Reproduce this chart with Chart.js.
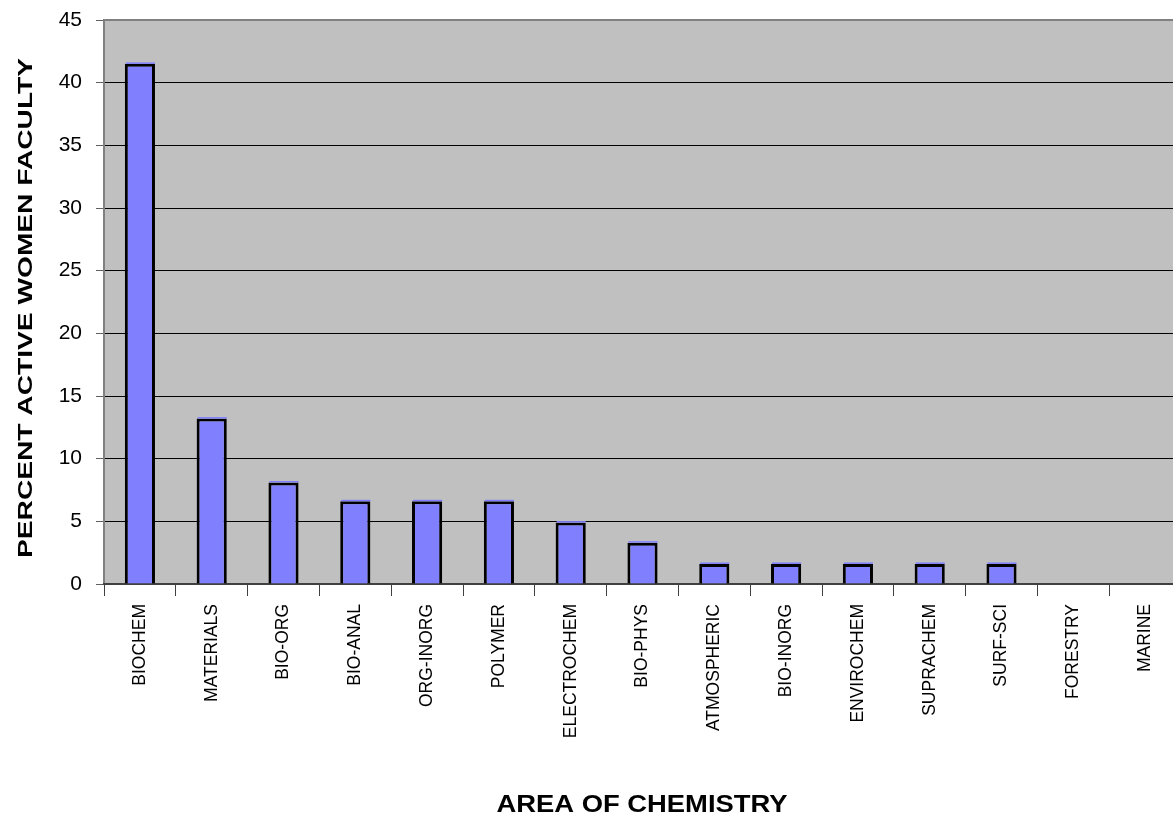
<!DOCTYPE html>
<html>
<head>
<meta charset="utf-8">
<script src="https://cdn.jsdelivr.net/npm/chart.js@4"></script>
<style>
  html, body { margin: 0; padding: 0; background: #fff; overflow: hidden; }
  #wrap { width: 1173px; height: 821px; overflow: hidden; }
</style>
</head>
<body>
<div id="wrap"><canvas id="grafico" width="1190" height="821"></canvas></div>
<script>
// dados
const areas = ["BIOCHEM", "MATERIALS", "BIO-ORG", "BIO-ANAL", "ORG-INORG", "POLYMER", "ELECTROCHEM",
  "BIO-PHYS", "ATMOSPHERIC", "BIO-INORG", "ENVIROCHEM", "SUPRACHEM", "SURF-SCI", "FORESTRY", "MARINE"];
const percentuais = [41.5, 13.2, 8.1, 6.6, 6.6, 6.6, 4.9, 3.3, 1.6, 1.6, 1.6, 1.6, 1.6, 0, 0];
const ticksY = [0, 5, 10, 15, 20, 25, 30, 35, 40, 45];
const tituloY = "PERCENT ACTIVE WOMEN FACULTY";
const tituloX = "AREA OF CHEMISTRY";

const fonte = "'Liberation Sans', Arial, sans-serif";

// fundo cinza da área do gráfico, borda e títulos (esticados como no original)
const fundoArea = {
  id: "fundoArea",
  beforeDraw(chart) {
    const { ctx, chartArea: a } = chart;
    ctx.save();
    ctx.fillStyle = "#C0C0C0";
    ctx.fillRect(a.left, a.top, a.right - a.left, a.bottom - a.top);
    ctx.restore();
  },
  afterDatasetsDraw(chart) {
    const { ctx, chartArea: a } = chart;
    ctx.save();
    // filete azul em cima de cada barra
    const meta = chart.getDatasetMeta(0);
    ctx.fillStyle = "#8080FF";
    meta.data.forEach((bar, i) => {
      if (percentuais[i] > 0) {
        ctx.fillRect(bar.x - bar.width / 2 + 1, bar.y - 1.5, bar.width - 1, 1.5);
      }
    });
    // borda superior
    ctx.strokeStyle = "#808080";
    ctx.lineWidth = 2;
    ctx.beginPath();
    ctx.moveTo(a.left, a.top);
    ctx.lineTo(a.right, a.top);
    ctx.lineTo(a.right, a.bottom);
    ctx.stroke();
    ctx.restore();
  },
  afterDraw(chart) {
    const { ctx, chartArea: a } = chart;
    ctx.save();
    ctx.fillStyle = "#000";
    ctx.textAlign = "center";
    ctx.textBaseline = "middle";

    // título do eixo X
    ctx.font = "bold 23px " + fonte;
    let w = ctx.measureText(tituloX).width;
    ctx.save();
    ctx.translate(642, 806);
    ctx.scale(291 / w, 1);
    ctx.fillText(tituloX, 0, 0);
    ctx.restore();

    // título do eixo Y
    ctx.font = "bold 21px " + fonte;
    w = ctx.measureText(tituloY).width;
    ctx.save();
    ctx.translate(26, (a.top + a.bottom) / 2 + 6);
    ctx.rotate(-Math.PI / 2);
    ctx.scale(500 / w, 1);
    ctx.fillText(tituloY, 0, 0);
    ctx.restore();

    ctx.restore();
  }
};

const ctx = document.getElementById("grafico").getContext("2d");
new Chart(ctx, {
  type: "bar",
  data: {
    labels: areas,
    datasets: [{
      data: percentuais,
      backgroundColor: "#8080FF",
      borderColor: "#000000",
      borderWidth: 3,
      borderSkipped: "bottom",
      barPercentage: 0.42,
      categoryPercentage: 1.0
    }]
  },
  options: {
    responsive: false,
    animation: false,
    layout: { padding: { left: 0, top: 20, right: 9, bottom: 0 } },
    plugins: {
      legend: { display: false },
      tooltip: { enabled: false }
    },
    scales: {
      y: {
        min: 0,
        max: 45,
        afterFit(scale) {
          scale.width = 104;
          scale.paddingTop = 0;
          scale.paddingBottom = 0;
        },
        afterBuildTicks(scale) { scale.ticks = ticksY.map(v => ({ value: v })); },
        ticks: { color: "#000", font: { family: fonte, size: 21 }, padding: 14 },
        grid: { color: "#000", lineWidth: 1, tickLength: 8, tickColor: "#606060" },
        border: { color: "#808080", width: 2 }
      },
      x: {
        afterFit(scale) {
          scale.height = 237;
          scale.paddingLeft = 0;
          scale.paddingRight = 0;
        },
        ticks: {
          color: "#000",
          font: { family: fonte, size: 17.5 },
          maxRotation: 90,
          minRotation: 90,
          padding: 8,
          autoSkip: false
        },
        grid: { offset: true, drawOnChartArea: false, tickLength: 12, tickColor: "#404040", lineWidth: 1 },
        border: { color: "#404040", width: 2 }
      }
    }
  },
  plugins: [fundoArea]
});
</script>
</body>
</html>
